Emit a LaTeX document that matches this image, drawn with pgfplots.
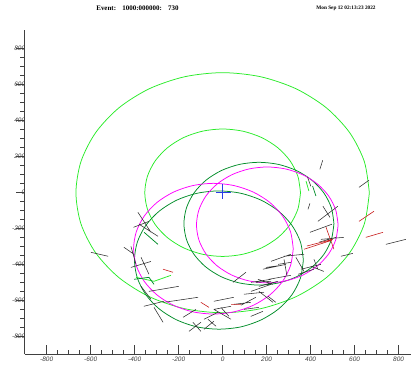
\documentclass[border=0pt]{standalone}
\usepackage{fontspec}
\setmainfont{Liberation Sans}
\newfontfamily\tnr{Liberation Serif}
\usepackage{pgfplots}
\pgfplotsset{compat=1.18}
\definecolor{lgreen}{RGB}{40,235,40}
\definecolor{dgreen}{RGB}{0,140,40}
\definecolor{mag}{RGB}{255,0,255}
\definecolor{hitk}{RGB}{45,45,45}
\definecolor{hitr}{RGB}{200,30,30}
\definecolor{crossb}{RGB}{40,60,230}
\begin{document}
\begin{tikzpicture}
\useasboundingbox (-24.7bp,-14bp) rectangle (388.3bp,354bp);
\begin{axis}[
  scale only axis, width=386bp, height=324bp,
  xmin=-900, xmax=855, ymin=-900, ymax=900,
  axis lines=left, axis line style={-, line width=0.6bp, black!75},
  xtick={-800,-600,...,800}, ytick={-800,-600,...,800},
  minor tick num=3,
  tick align=inside,
  major tick length=8.5bp, minor tick length=4.3bp,
  every major y tick/.append style={xshift=-8.5bp},
  every minor y tick/.append style={xshift=-4.3bp},
  tick style={black!75, line width=0.6bp},
  ticklabel style={font=\fontsize{6.5}{7}\selectfont\itshape, text=black!75},
  /pgf/number format/assume math mode=true,
  xticklabel style={yshift=0.5bp},
  yticklabel style={anchor=east, xshift=4bp},
  unbounded coords=jump,
]
% light green circles
\addplot[lgreen, line width=0.75bp, smooth] coordinates {
(667,-4) (644.3,168.6) (577.6,329.5) (471.6,467.6) (333.5,573.6) (172.6,640.3) (0,663)
(-172.6,640.3) (-333.5,573.6) (-471.6,467.6) (-577.6,329.5) (-644.3,168.6) (-667,-4)
(-644.3,-176.6) (-577.6,-337.5) (-471.6,-475.6) (-333.5,-581.6) (-172.6,-648.3) (0,-671)
(172.6,-648.3) (333.5,-581.6) (471.6,-475.6) (577.6,-337.5) (644.3,-176.6) (667,-4)};
\addplot[lgreen, line width=0.75bp, smooth] coordinates {
(354,-4) (341.9,87.6) (306.6,173) (250.3,246.3) (177,302.6) (91.6,337.9) (0,350)
(-91.6,337.9) (-177,302.6) (-250.3,246.3) (-306.6,173) (-341.9,87.6) (-354,-4)
(-341.9,-95.6) (-306.6,-181) (-250.3,-254.3) (-177,-310.6) (-91.6,-345.9) (0,-358)
(91.6,-345.9) (177,-310.6) (250.3,-254.3) (306.6,-181) (341.9,-95.6) (354,-4)};
% dark green circles
\addplot[dgreen, line width=0.75bp, smooth] coordinates {
(506,-176) (494.4,-87.7) (460.3,-5.5) (406.1,65.1) (335.5,119.3) (253.3,153.4) (165,165)
(76.7,153.4) (-5.5,119.3) (-76.1,65.1) (-130.3,-5.5) (-164.4,-87.7) (-176,-176)
(-164.4,-264.3) (-130.3,-346.5) (-76.1,-417.1) (-5.5,-471.3) (76.7,-505.4) (165,-517)
(253.3,-505.4) (335.5,-471.3) (406.1,-417.1) (460.3,-346.5) (494.4,-264.3) (506,-176)};
\addplot[dgreen, line width=0.75bp, smooth] coordinates {
(367,-378) (353.9,-278.6) (315.5,-186) (254.5,-106.5) (175,-45.5) (82.4,-7.1) (-17,6)
(-116.4,-7.1) (-209,-45.5) (-288.5,-106.5) (-349.5,-186) (-387.9,-278.6) (-401,-378)
(-387.9,-477.4) (-349.5,-570) (-288.5,-649.5) (-209,-710.5) (-116.4,-749.4) (-17,-762)
(82.4,-749.4) (175,-710.5) (254.5,-649.5) (315.5,-570) (353.9,-477.4) (367,-378)};
% magenta circles
\addplot[mag, line width=0.75bp, smooth] coordinates {
(321,-315) (308.6,-221.1) (272.4,-133.5) (214.7,-58.3) (139.5,-0.6) (51.9,35.6) (-42,48)
(-135.9,35.6) (-223.5,-0.6) (-298.7,-58.3) (-356.4,-133.5) (-392.6,-221.1) (-405,-315)
(-392.6,-408.9) (-356.4,-496.5) (-298.7,-571.7) (-223.5,-629.4) (-135.9,-665.6) (-42,-678)
(51.9,-665.6) (139.5,-629.4) (214.7,-571.7) (272.4,-496.5) (308.6,-408.9) (321,-315)};
\addplot[mag, line width=0.75bp, smooth] coordinates {
(525,-183) (514,-99.7) (481.9,-22) (430.7,44.7) (364,95.9) (286.3,128) (203,139)
(119.7,128) (42,95.9) (-24.7,44.7) (-75.9,-22) (-108,-99.7) (-119,-183)
(-108,-266.3) (-75.9,-344) (-24.7,-410.7) (42,-461.9) (119.7,-494) (203,-505)
(286.3,-494) (364,-461.9) (430.7,-410.7) (481.9,-344) (514,-266.3) (525,-183)};
% short track pieces
\addplot[lgreen, line width=0.75bp] coordinates {
(-394,-474) (-312,-496) (-235,-463) (nan,nan) (379,61) (392,6)};
\addplot[dgreen, line width=0.75bp] coordinates {
(-357,-224) (-294,-291) (nan,nan) (-403,-485) (-335,-474) (-312,-513) (nan,nan) (409,33) (424,-22)};
% black hits
\addplot[hitk, line width=0.55bp] coordinates {
(455,176) (442,126) (nan,nan) (620,26) (665,65) (nan,nan) (397,-63) (388,-96) (nan,nan)
(433,-163) (524,-79) (nan,nan) (456,-79) (488,-141) (nan,nan) (386,82) (401,32) (nan,nan)
(447,-263) (551,-252) (nan,nan) (538,-357) (592,-341) (nan,nan) (742,-291) (833,-263) (nan,nan)
(415,-374) (433,-429) (nan,nan) (401,-413) (460,-441) (nan,nan) (279,-357) (370,-346) (nan,nan)
(397,-224) (497,-179) (nan,nan) (438,-279) (515,-252) (nan,nan) (356,-429) (447,-402) (nan,nan)
(333,-363) (370,-441) (nan,nan) (220,-385) (310,-346) (nan,nan) (279,-374) (292,-463) (nan,nan)
(183,-429) (288,-402) (nan,nan) (210,-485) (310,-463) (nan,nan) (129,-552) (220,-513) (nan,nan)
(83,-629) (151,-585) (nan,nan) (47,-502) (106,-446) (nan,nan) (151,-502) (220,-496) (nan,nan)
(97,-568) (188,-557) (nan,nan) (206,-579) (242,-613) (nan,nan) (51,-624) (128,-613) (nan,nan)
(-40,-652) (38,-635) (nan,nan) (-85,-707) (-21,-668) (nan,nan) (128,-691) (183,-663) (nan,nan)
(-67,-707) (-30,-746) (nan,nan) (-385,-113) (-326,-224) (nan,nan) (-380,-179) (-294,-246) (nan,nan)
(-449,-307) (-403,-346) (nan,nan) (-417,-302) (-394,-402) (nan,nan) (-335,-552) (-199,-524) (nan,nan)
(-358,-635) (-267,-607) (nan,nan) (-267,-613) (-112,-585) (nan,nan) (-312,-641) (-271,-724) (nan,nan)
(-180,-696) (-121,-652) (nan,nan) (-153,-774) (-99,-724) (nan,nan) (-135,-724) (-99,-774) (nan,nan)
(-599,-335) (-521,-357) (nan,nan) (-40,-652) (38,-707) (nan,nan) (165,-552) (229,-613) (nan,nan)
(165,-524) (251,-496) (nan,nan) (-405,-196) (-335,-163) (nan,nan) (-417,-419) (-326,-386) (nan,nan)
(-371,-363) (-335,-457) (nan,nan) (-371,-524) (-326,-596) (nan,nan)
(197,-419) (265,-408) (nan,nan) (160,-485) (229,-513) (nan,nan) (97,-652) (165,-641) (nan,nan)
(-40,-607) (51,-585) (nan,nan) (-8,-641) (29,-691) (nan,nan) (-85,-763) (-40,-718) (nan,nan)
(252,-402) (310,-391) (nan,nan) (129,-502) (220,-485) (nan,nan) (343,-457) (415,-429)};
% red hits
\addplot[hitr, line width=0.6bp] coordinates {
(370,-318) (497,-268) (nan,nan) (383,-300) (501,-263) (nan,nan) (470,-196) (506,-318) (nan,nan)
(620,-163) (688,-107) (nan,nan) (651,-252) (729,-224) (nan,nan) (-271,-429) (-226,-446) (nan,nan)
(-99,-613) (-62,-641) (nan,nan) (38,-624) (83,-624)};
% vertex cross
\addplot[crossb, line width=0.7bp] coordinates {(-30,0) (37,0) (nan,nan) (0,43) (0,-40)};
\end{axis}
\node[font=\tnr\bfseries\fontsize{7}{8}\selectfont] at (112.8bp,346bp)
  {Event:\hspace{0.9em}1000:000000:\hspace{0.9em}730};
\node[font=\tnr\bfseries\fontsize{5.3}{6}\selectfont] at (321.3bp,346bp)
  {Mon Sep 12 02:13:23 2022};
\end{tikzpicture}
\end{document}
